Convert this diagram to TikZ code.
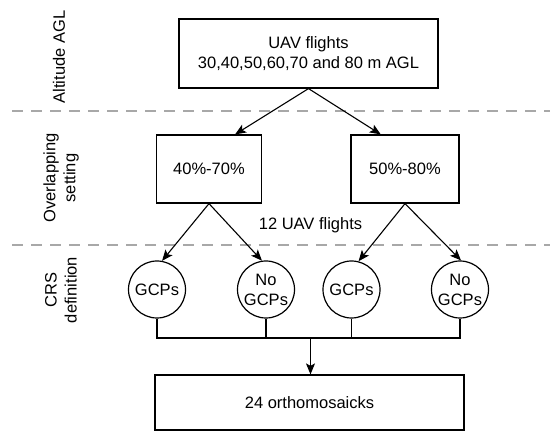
\documentclass[tikz,border=0pt]{standalone}
\usepackage{fontspec}
\setmainfont{Liberation Sans}
\usetikzlibrary{positioning,arrows.meta,calc}
\definecolor{DividerGray}{RGB}{168,168,168}

\begin{document}
\begin{tikzpicture}[x=1pt, y=-1pt, font=\fontsize{16.5}{20}\selectfont, every node/.style={align=center}]
\tikzset{
  stage/.style={draw, line width=1.2pt, minimum height=68pt, inner sep=0pt},
  choice/.style={draw, circle, line width=1.2pt, minimum size=57pt, inner sep=0pt},
  lane/.style={rotate=90, inner sep=0pt},
  divider/.style={DividerGray, line width=1.2pt, dash pattern=on 10.5pt off 8.5pt},
  link/.style={line width=1.2pt},
  arr/.style={-{Stealth[length=11pt, width=9pt, inset=2.5pt]}, line width=1.1pt}
}
  \useasboundingbox (0,0) rectangle (550,438);

  % stage labels on the left
  \node[lane] (altlab) at (59,57) {Altitude AGL};
  \node[lane] (ovlab) at (61,178) {Overlapping\\setting};
  \node[lane] (crslab) at (61,290) {CRS\\definition};
  \draw[divider] (12,111) -- (550,111);
  \draw[divider] (12,245) -- (550,245);

  \node[stage, minimum width=259pt, minimum height=69pt] (flights) at (308.5,53.5) {UAV flights\\30,40,50,60,70 and 80 m AGL};

  \node[stage, minimum width=105pt] (ov1) at (209,169) {40\%-70\%};
  \node[stage, minimum width=108pt] (ov2) at (405,169) {50\%-80\%};
  \draw[arr] (flights.south) -- (ov1.53);
  \draw[arr] (flights.south) -- (ov2.125);

  \node (count) at (310.5,225) {12 UAV flights};

  \node[choice] (g1) at (157,289.5) {GCPs};
  \node[choice] (ng1) at (266,289.5) {No\\GCPs};
  \node[choice] (g2) at (351.5,289.5) {GCPs};
  \node[choice] (ng2) at (460,289.5) {No\\GCPs};
  \draw[arr] (ov1.south) -- (g1.80);
  \draw[arr] (ov1.south) -- (ng1.98);
  \draw[arr] (ov2.south) -- (g2.76);
  \draw[arr] (ov2.south) -- (ng2.88);

  \node[stage, minimum width=309pt, minimum height=55pt] (mosaic) at (309.5,402.5) {24 orthomosaicks};
  \coordinate (bus) at (310.5,338);
  \draw[link] (g1.south) |- (bus) -| (ng2.south);
  \draw[link] (ng1.south) -- (ng1.south |- bus);
  \draw[link] (g2.south) -- (g2.south |- bus);
  \draw[arr] (bus) -- (bus |- mosaic.north);
\end{tikzpicture}
\end{document}
